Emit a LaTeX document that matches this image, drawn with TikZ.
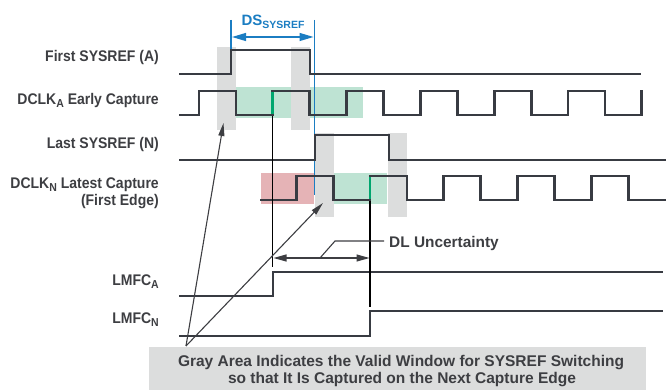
\documentclass[tikz,border=0pt]{standalone}
\usepackage{fontspec}
\setmainfont{Liberation Sans}
\usetikzlibrary{arrows.meta}

\definecolor{wavecol}{HTML}{383B42}
\definecolor{txtcol}{HTML}{3D3E42}
\definecolor{bandgray}{HTML}{DCDDDD}
\definecolor{greenfill}{HTML}{BEE3D3}
\definecolor{greenedge}{HTML}{00A66E}
\definecolor{redfill}{HTML}{E5B3B6}
\definecolor{dsblue}{HTML}{1B7DC2}

\newcommand{\lowidx}[1]{\raisebox{-0.38ex}{\fontsize{10.5}{10.5}\selectfont #1}}
% signal names are set slightly taller than wide
\newcommand{\tallname}[1]{\scalebox{1}[1.1]{#1}}

\begin{document}
\begin{tikzpicture}[x=1pt,y=-1pt,
  wave/.style={draw=wavecol, line width=2.8pt, line join=miter},
  thin/.style={draw=black, line width=1.1pt},
  lbl/.style={font=\fontsize{14}{16}\selectfont\bfseries, text=txtcol, inner sep=0pt, anchor=base east},
  band/.style={fill=bandgray, draw=none},
  pointer/.style={draw=txtcol, line width=1.1pt, -{Triangle[length=13pt,width=6pt]}},
  dlarrow/.style={draw=txtcol, line width=1.1pt, {Triangle[length=13pt,width=7pt]}-{Triangle[length=13pt,width=7pt]}},
  dsarrow/.style={draw=dsblue, line width=1.2pt, {Triangle[length=14pt,width=8pt]}-{Triangle[length=14pt,width=8pt]}}]
\useasboundingbox (0,0) rectangle (666,390);

% capture windows (green = valid, red = missed)
\fill[greenfill] (236,87) rectangle (363,118);
\fill[greenfill] (333,173) rectangle (387,204);
\fill[redfill]   (261,173) rectangle (314,204);

% gray switching windows
\fill[band] (217,47) rectangle (236,130);
\fill[band] (291,47) rectangle (310,130);
\fill[band] (315,133) rectangle (334,217);
\fill[band] (388,133) rectangle (407,217);

% DS_SYSREF markers
\draw[dsblue, line width=1.2pt] (231,20) -- (231,50);
\draw[dsblue, line width=1.2pt] (314.5,20) -- (314.5,195);
\draw[dsarrow] (232,37) -- (313.5,37);
\node[font=\fontsize{15}{17}\selectfont\bfseries, text=dsblue, inner sep=0pt, anchor=base] (ds) at (273,25.5) {DS\lowidx{SYSREF}};

% signal labels
\node[lbl] (lsa)  at (159,61.5)  {\tallname{First SYSREF (A)}};
\node[lbl] (lca)  at (159,104.5) {\tallname{DCLK\lowidx{A} Early Capture}};
\node[lbl] (lsn)  at (159,148.3) {\tallname{Last SYSREF (N)}};
\node[lbl] (lcn)  at (159,188.3) {\tallname{DCLK\lowidx{N} Latest Capture}};
\node[lbl] (lcn2) at (159,205)   {\tallname{(First Edge)}};
\node[lbl] (lma)  at (159,285)   {\tallname{LMFC\lowidx{A}}};
\node[lbl] (lmn)  at (159,323.3) {\tallname{LMFC\lowidx{N}}};

% First SYSREF (A)
\draw[wave] (179,74) -- (231,74) -- (231,50) -- (310,50) -- (310,74) -- (641,74);

% DCLK_A
\draw[wave] (179,115) -- (199,115) -- (199,91) -- (235.9,91) -- (235.9,115)
  -- (272.8,115) -- (272.8,91) -- (309.7,91) -- (309.7,115)
  -- (346.6,115) -- (346.6,91) -- (383.5,91) -- (383.5,115)
  -- (420.4,115) -- (420.4,91) -- (457.3,91) -- (457.3,115)
  -- (494.2,115) -- (494.2,91) -- (531.1,91) -- (531.1,115)
  -- (568,115) -- (568,91) -- (604.9,91) -- (604.9,115)
  -- (641.8,115) -- (641.8,90);

% Last SYSREF (N)
\draw[wave] (179,160) -- (315,160) -- (315,135) -- (389,135) -- (389,160) -- (666,160);

% DCLK_N
\draw[wave] (260,200) -- (296.2,200) -- (296.2,176) -- (333.1,176) -- (333.1,200)
  -- (370,200) -- (370,176) -- (406.9,176) -- (406.9,200)
  -- (443.8,200) -- (443.8,176) -- (480.7,176) -- (480.7,200)
  -- (517.6,200) -- (517.6,176) -- (554.5,176) -- (554.5,200)
  -- (591.4,200) -- (591.4,176) -- (628.3,176) -- (628.3,200) -- (666,200);

% capturing edges
\draw[greenedge, line width=2.8pt] (272.8,92) -- (272.8,114);
\draw[greenedge, line width=2.8pt] (370,177) -- (370,199);

% LMFC_A and LMFC_N
\draw[wave] (179,296) -- (273,296) -- (273,272) -- (663,272);
\draw[wave] (179,336) -- (370,336) -- (370,311) -- (663,311);

% DL uncertainty
\coordinate (ea) at (272.8,116);
\coordinate (eab) at (272.8,267);
\coordinate (en) at (370,201);
\coordinate (enb) at (370,307);
\draw[thin] (ea) -- (eab);
\draw[thin] (en) -- (enb);
\coordinate (dla) at (273.5,258);
\coordinate (dlb) at (369.5,258);
\draw[dlarrow] (dla) -- (dlb);
\node[font=\fontsize{15.4}{17}\selectfont\bfseries, text=txtcol, inner sep=0pt, anchor=base west] (dl) at (389,247) {DL Uncertainty};
\coordinate (dlk) at (335,241);
\coordinate (dlo) at (320,258);
\coordinate (dle) at (384,241);
\draw[thin, draw=txtcol] (dlo) -- (dlk) -- (dle);

% caption box
\fill[bandgray] (149,347) rectangle (646,390);
\node[font=\fontsize{15.5}{18}\selectfont\bfseries, text=txtcol, inner sep=0pt, anchor=base] (cap1) at (401,366)
  {Gray Area Indicates the Valid Window for SYSREF Switching};
\node[font=\fontsize{15.5}{18}\selectfont\bfseries, text=txtcol, inner sep=0pt, anchor=base] (cap2) at (402,383.5)
  {so that It Is Captured on the Next Capture Edge};

% pointers to the gray windows
\coordinate (pc) at (186,346);
\coordinate (pa) at (223.5,123);
\coordinate (pn) at (323,203);
\draw[pointer] (pc) -- (pa);
\draw[pointer] (pc) -- (pn);

\end{tikzpicture}
\end{document}
